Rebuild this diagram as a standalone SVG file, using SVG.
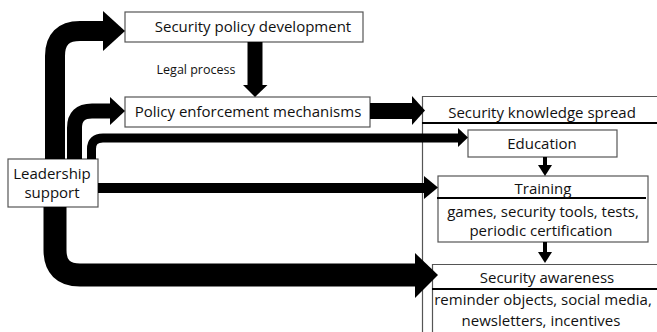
<svg xmlns="http://www.w3.org/2000/svg" width="657" height="332" viewBox="0 0 657 332">
<style>
.box{fill:#fff;stroke:#555;stroke-width:1.2}
.t{font-family:"Open Sans","Liberation Sans",sans-serif;font-size:15px;fill:#111;text-anchor:middle}
.s{font-size:12.5px}
.sh{fill:none;stroke:#000}
.hd{fill:#000}
.ul{stroke:#000;stroke-width:2}
</style>
<rect width="657" height="332" fill="#fff"/>
<g id="knowledge">
<path d="M422.5,332 V96.5 H657" fill="none" stroke="#555" stroke-width="1.2"/>
<line class="ul" x1="422" y1="123" x2="657" y2="123"/>
<text class="t" x="542" y="118">Security knowledge spread</text>
</g>
<g id="education">
<rect class="box" x="468" y="130" width="149" height="27"/>
<text class="t" x="542" y="149">Education</text>
</g>
<g id="training">
<rect class="box" x="438" y="176" width="210" height="66"/>
<line class="ul" x1="437" y1="198" x2="646" y2="198"/>
<text class="t" x="543" y="194">Training</text>
<text class="t" x="543" y="217">games, security tools, tests,</text>
<text class="t" x="541" y="236">periodic certification</text>
</g>
<g id="awareness">
<path d="M432.5,332 V264.5 H657" fill="none" stroke="#555" stroke-width="1.2"/>
<line class="ul" x1="432" y1="289" x2="657" y2="289"/>
<text class="t" x="547" y="283">Security awareness</text>
<text class="t" x="543" y="305">reminder objects, social media,</text>
<text class="t" x="541" y="326">newsletters, incentives</text>
</g>
<g id="policy-dev">
<rect class="box" x="125" y="12" width="238" height="30"/>
<text class="t" x="253" y="32">Security policy development</text>
</g>
<g id="policy-enf">
<rect class="box" x="125" y="97" width="245" height="30"/>
<text class="t" x="248" y="117">Policy enforcement mechanisms</text>
</g>
<g id="leadership">
<rect class="box" x="8" y="159" width="90" height="48"/>
<text class="t" x="52" y="179">Leadership</text>
<text class="t" x="52" y="198">support</text>
</g>
<g id="connectors">
<path class="sh" stroke-width="20" d="M55,159 V56 Q55,31 80,31 H104"/>
<polygon class="hd" points="103,11 125,31 103,51"/>
<path class="sh" stroke-width="15" d="M74.5,159 V128 Q74.5,111 92,111 H111"/>
<polygon class="hd" points="110,97 125,111 110,125"/>
<path class="sh" stroke-width="9" d="M91.5,159 V149 Q91.5,138 103,138 H459"/>
<polygon class="hd" points="458,128 468,137.5 458,147"/>
<path class="sh" stroke-width="10" d="M98,188 H425"/>
<polygon class="hd" points="424,176 438,187.5 424,199"/>
<path class="sh" stroke-width="23" d="M55,207 V250 Q55,275 80,275 H416"/>
<polygon class="hd" points="415,253 438,275 415,298"/>
<path class="sh" stroke-width="16" d="M370,111 H413"/>
<polygon class="hd" points="412,96 425,110.5 412,125"/>
<path class="sh" stroke-width="15" d="M255,42 V86"/>
<polygon class="hd" points="243,85 267.5,85 255,97"/>
<path class="sh" stroke-width="4" d="M545,157 V167"/>
<polygon class="hd" points="538,165 552,165 545,176"/>
<path class="sh" stroke-width="4" d="M545,242 V253"/>
<polygon class="hd" points="538,252 552,252 545,263"/>
</g>
<text class="t s" x="196" y="74">Legal process</text>
</svg>
